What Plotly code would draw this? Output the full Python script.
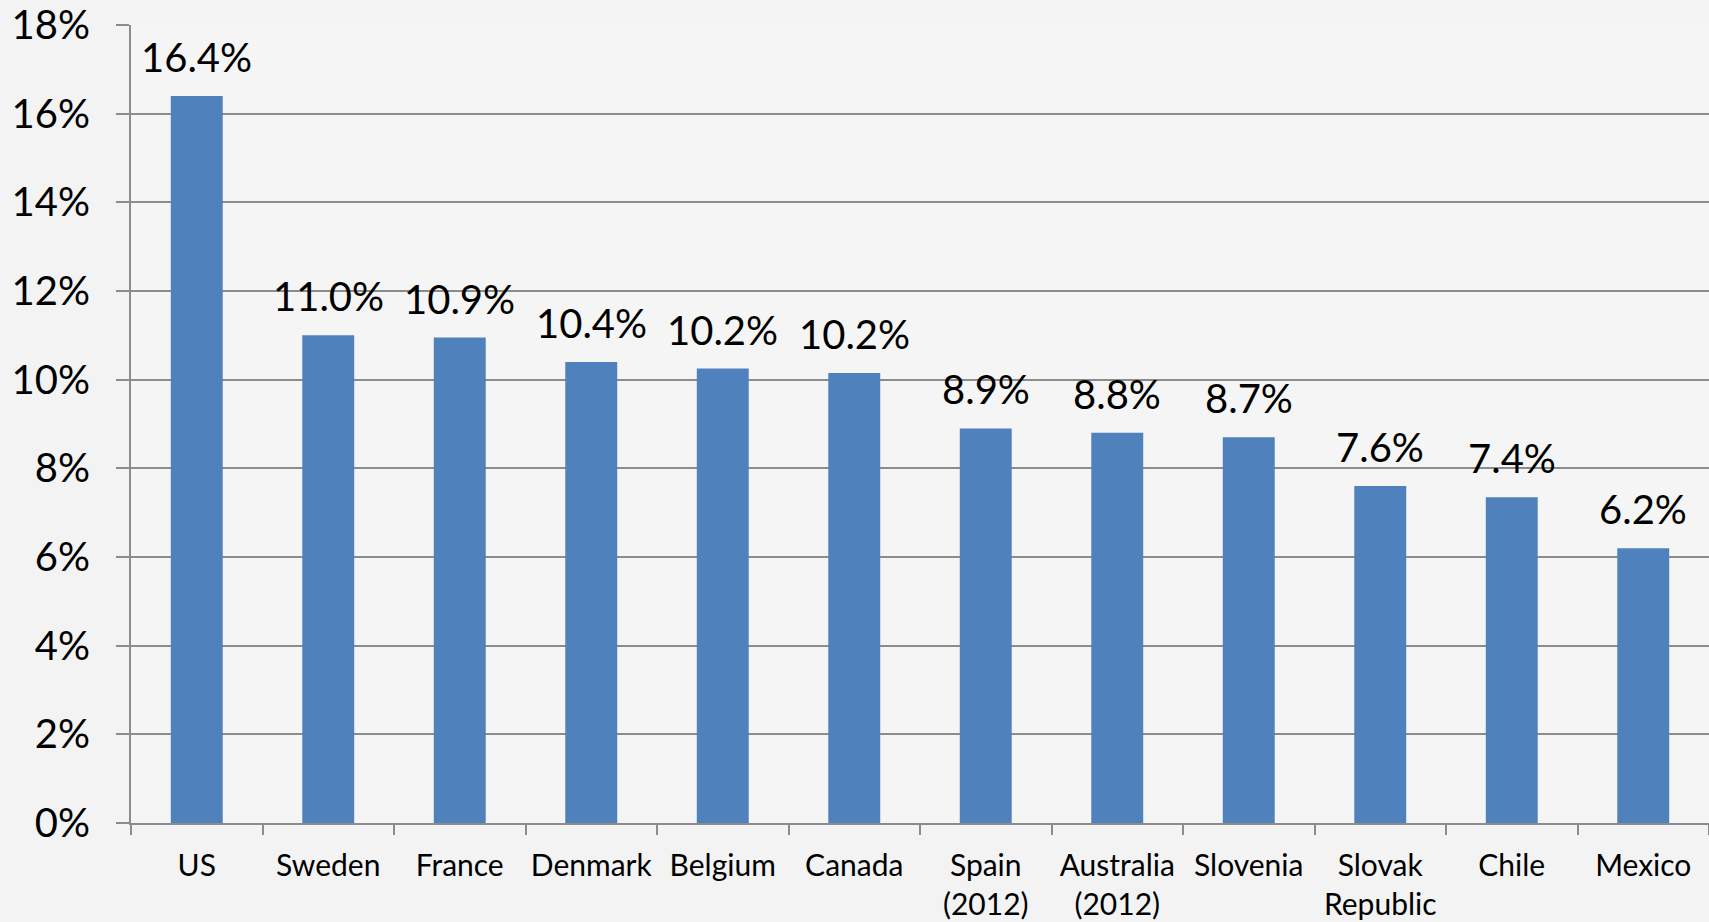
import plotly.graph_objects as go

# share values, percent
countries = ["US", "Sweden", "France", "Denmark", "Belgium", "Canada",
             "Spain<br>(2012)", "Australia<br>(2012)", "Slovenia",
             "Slovak<br>Republic", "Chile", "Mexico"]
values = [16.4, 11.0, 10.95, 10.4, 10.25, 10.15, 8.9, 8.8, 8.7, 7.6, 7.35, 6.2]
value_labels = ["16.4%", "11.0%", "10.9%", "10.4%", "10.2%", "10.2%",
                "8.9%", "8.8%", "8.7%", "7.6%", "7.4%", "6.2%"]
y_ticks = [0, 2, 4, 6, 8, 10, 12, 14, 16, 18]

font_family = "Lato"
bar_color = "#4F81BD"
grid_color = "#8c8c8c"

fig = go.Figure()

fig.add_trace(go.Bar(
    x=countries,
    y=values,
    marker=dict(color=bar_color, line=dict(width=0)),
    hoverinfo="skip",
))

# value labels above each bar
annotations = []
for c, v, lab in zip(countries, values, value_labels):
    annotations.append(dict(
        x=c, y=v, text=lab,
        xref="x", yref="y",
        showarrow=False,
        yanchor="bottom",
        yshift=13,
        font=dict(family=font_family, size=40, color="black"),
    ))

fig.update_layout(
    width=1709,
    height=922,
    margin=dict(l=131, r=0, t=25, b=99),
    paper_bgcolor="#f3f3f3",
    plot_bgcolor="#f5f5f5",
    bargap=0.605,
    showlegend=False,
    annotations=annotations,
    font=dict(family=font_family, color="black"),
)

fig.update_xaxes(
    showline=True,
    linecolor=grid_color,
    linewidth=2,
    ticks="outside",
    tickson="boundaries",
    ticklen=10,
    tickwidth=2,
    tickcolor=grid_color,
    tickangle=0,
    automargin=False,
    tickfont=dict(family=font_family, size=30, color="black"),
    ticklabelstandoff=15,
    showgrid=False,
)

fig.update_yaxes(
    range=[0, 18],
    tickvals=y_ticks,
    ticktext=[f"{t}%" for t in y_ticks],
    showline=True,
    linecolor=grid_color,
    linewidth=2,
    showgrid=True,
    gridcolor=grid_color,
    gridwidth=2,
    zeroline=False,
    ticks="outside",
    ticklen=13,
    tickwidth=2,
    tickcolor=grid_color,
    automargin=False,
    ticklabelstandoff=18,
    tickfont=dict(family=font_family, size=40, color="black"),
)

# page body has a default margin; drop it so the figure sits at the corner
fig.write_html("out.html", config={"displayModeBar": False},
               post_script="document.body.style.margin='0';")
